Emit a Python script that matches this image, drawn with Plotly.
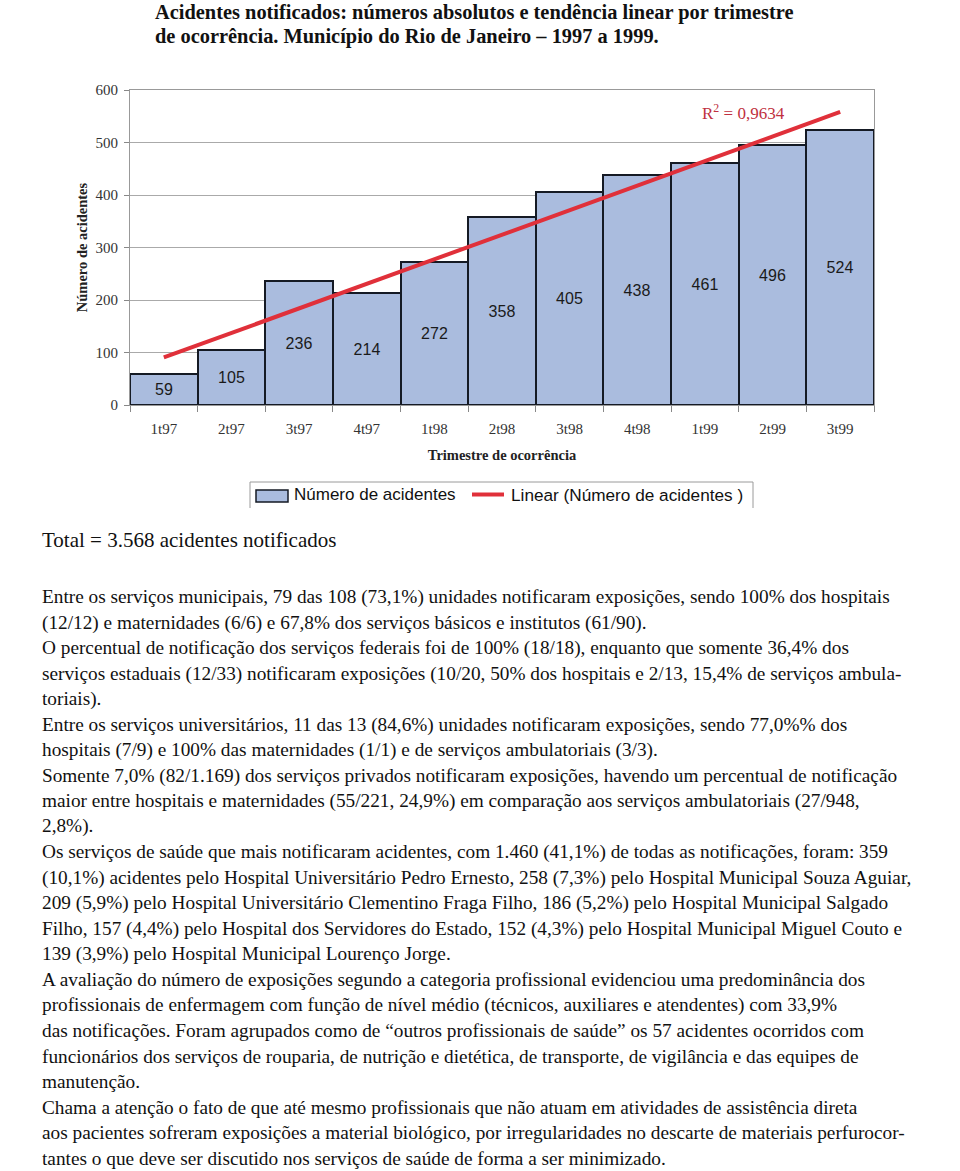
import numpy as np
import plotly.graph_objects as go

categories = ["1t97", "2t97", "3t97", "4t97", "1t98", "2t98", "3t98", "4t98", "1t99", "2t99", "3t99"]
acidentes = [59, 105, 236, 214, 272, 358, 405, 438, 461, 496, 524]
y_ticks = [0, 100, 200, 300, 400, 500, 600]
r2_label = "R<sup>2</sup> = 0,9634"
bar_name = "Número de acidentes"
trend_name = "Linear (Número de acidentes )"

title_lines = [
    "Acidentes notificados: números absolutos e tendência linear por trimestre",
    "de ocorrência. Município do Rio de Janeiro – 1997 a 1999.",
]
total_text = "Total = 3.568 acidentes notificados"
body_lines = [
    "Entre os serviços municipais, 79 das 108 (73,1%) unidades notificaram exposições, sendo 100% dos hospitais",
    "(12/12) e maternidades (6/6) e 67,8% dos serviços básicos e institutos (61/90).",
    "O percentual de notificação dos serviços federais foi de 100% (18/18), enquanto que somente 36,4% dos",
    "serviços estaduais (12/33) notificaram exposições (10/20, 50% dos hospitais e 2/13, 15,4% de serviços ambula-",
    "toriais).",
    "Entre os serviços universitários, 11 das 13 (84,6%) unidades notificaram exposições, sendo 77,0%% dos",
    "hospitais (7/9) e 100% das maternidades (1/1) e de serviços ambulatoriais (3/3).",
    "Somente 7,0% (82/1.169) dos serviços privados notificaram exposições, havendo um percentual de notificação",
    "maior entre hospitais e maternidades (55/221, 24,9%) em comparação aos serviços ambulatoriais (27/948,",
    "2,8%).",
    "Os serviços de saúde que mais notificaram acidentes, com 1.460 (41,1%) de todas as notificações, foram: 359",
    "(10,1%) acidentes pelo Hospital Universitário Pedro Ernesto, 258 (7,3%) pelo Hospital Municipal Souza Aguiar,",
    "209 (5,9%) pelo Hospital Universitário Clementino Fraga Filho, 186 (5,2%) pelo Hospital Municipal Salgado",
    "Filho, 157 (4,4%) pelo Hospital dos Servidores do Estado, 152 (4,3%) pelo Hospital Municipal Miguel Couto e",
    "139 (3,9%) pelo Hospital Municipal Lourenço Jorge.",
    "A avaliação do número de exposições segundo a categoria profissional evidenciou uma predominância dos",
    "profissionais de enfermagem com função de nível médio (técnicos, auxiliares e atendentes) com 33,9%",
    "das notificações. Foram agrupados como de “outros profissionais de saúde” os 57 acidentes ocorridos com",
    "funcionários dos serviços de rouparia, de nutrição e dietética, de transporte, de vigilância e das equipes de",
    "manutenção.",
    "Chama a atenção o fato de que até mesmo profissionais que não atuam em atividades de assistência direta",
    "aos pacientes sofreram exposições a material biológico, por irregularidades no descarte de materiais perfurocor-",
    "tantes o que deve ser discutido nos serviços de saúde de forma a ser minimizado.",
]

W, H = 960, 1171
L, R, T, B = 130, 874, 90, 405
SERIF = "Liberation Serif, Times New Roman, serif"
SANS = "Liberation Sans, Arial, sans-serif"
BAR_FILL = "#aabcde"
BAR_EDGE = "#151a24"
RED = "#e0303a"


def px(x):
    return (x - L) / (R - L)


def py(y):
    return (B - y) / (B - T)


xi = np.arange(1, len(acidentes) + 1)
coef = np.polyfit(xi, acidentes, 1)
trend = np.polyval(coef, xi)

fig = go.Figure()
fig.add_trace(go.Bar(
    x=categories, y=acidentes, name=bar_name,
    marker=dict(color=BAR_FILL, line=dict(color=BAR_EDGE, width=2)),
    text=[str(v) for v in acidentes], textposition="inside",
    insidetextanchor="middle", textangle=0,
    textfont=dict(family=SANS, size=16, color="#1a1a1a"),
    constraintext="none", showlegend=False,
))
fig.add_trace(go.Scatter(
    x=categories, y=trend, mode="lines", name=trend_name,
    line=dict(color=RED, width=4), showlegend=False,
))

annotations = []
for i, t in enumerate(title_lines):
    annotations.append(dict(
        text="<b>" + t + "</b>", x=px(153), y=py(12 + 25 * i), xref="paper", yref="paper",
        xanchor="left", yanchor="middle", showarrow=False,
        font=dict(family=SERIF, size=20.4, color="#111"),
    ))
annotations.append(dict(
    text=r2_label, x=px(700), y=py(112), xref="paper", yref="paper",
    xanchor="left", yanchor="middle", showarrow=False,
    font=dict(family=SERIF, size=17, color="#c03040"),
))
annotations.append(dict(
    text=total_text, x=px(40), y=py(540), xref="paper", yref="paper",
    xanchor="left", yanchor="middle", showarrow=False,
    font=dict(family=SERIF, size=21, color="#111"),
))
for i, t in enumerate(body_lines):
    annotations.append(dict(
        text=t, x=px(40), y=py(597 + 25.5 * i), xref="paper", yref="paper",
        xanchor="left", yanchor="middle", showarrow=False,
        font=dict(family=SERIF, size=19.3, color="#111"),
    ))
# legend texts
annotations.append(dict(
    text=bar_name, x=px(292), y=py(495), xref="paper", yref="paper",
    xanchor="left", yanchor="middle", showarrow=False,
    font=dict(family=SANS, size=17, color="#111"),
))
annotations.append(dict(
    text=trend_name, x=px(509), y=py(495), xref="paper", yref="paper",
    xanchor="left", yanchor="middle", showarrow=False,
    font=dict(family=SANS, size=17.2, color="#111"),
))

shapes = [
    # legend frame (left, top, right)
    dict(type="line", xref="paper", yref="paper", x0=px(250), x1=px(250), y0=py(482), y1=py(508),
         line=dict(color="#9a9a9a", width=1)),
    dict(type="line", xref="paper", yref="paper", x0=px(250), x1=px(753), y0=py(482), y1=py(482),
         line=dict(color="#9a9a9a", width=1)),
    dict(type="line", xref="paper", yref="paper", x0=px(753), x1=px(753), y0=py(482), y1=py(508),
         line=dict(color="#9a9a9a", width=1)),
    # legend symbols
    dict(type="rect", xref="paper", yref="paper", x0=px(256), x1=px(288), y0=py(490), y1=py(502),
         fillcolor=BAR_FILL, line=dict(color=BAR_EDGE, width=1.5)),
    dict(type="line", xref="paper", yref="paper", x0=px(472), x1=px(504), y0=py(494.5), y1=py(494.5),
         line=dict(color=RED, width=4)),
]

fig.update_layout(
    width=W, height=H,
    margin=dict(l=L, r=W - R, t=T, b=H - B),
    paper_bgcolor="white", plot_bgcolor="white",
    bargap=0,
    showlegend=False,
    annotations=annotations,
    shapes=shapes,
    xaxis=dict(
        type="category", tickson="boundaries", ticks="outside", ticklen=6,
        tickcolor="#888", showline=True, linecolor="#999", mirror=True,
        tickfont=dict(family=SERIF, size=15, color="#333"),
        ticklabelstandoff=10,
        title=dict(text="<b>Trimestre de ocorrência</b>", standoff=13,
                   font=dict(family=SERIF, size=14.5, color="#222")),
        showgrid=False,
    ),
    yaxis=dict(
        range=[0, 600], tickvals=y_ticks, ticks="outside", ticklen=5,
        tickcolor="#888", showline=True, linecolor="#999", mirror=True,
        showgrid=True, gridcolor="#aaaaaa", gridwidth=1,
        tickfont=dict(family=SERIF, size=15, color="#333"),
        ticklabelstandoff=3,
        title=dict(text="<b>Número de acidentes</b>", standoff=4,
                   font=dict(family=SERIF, size=14.5, color="#222")),
        zeroline=False,
    ),
)

fig.write_html(
    "out.html",
    config={"displayModeBar": False},
    post_script="document.body.style.margin='0';document.body.style.overflow='hidden';",
)
